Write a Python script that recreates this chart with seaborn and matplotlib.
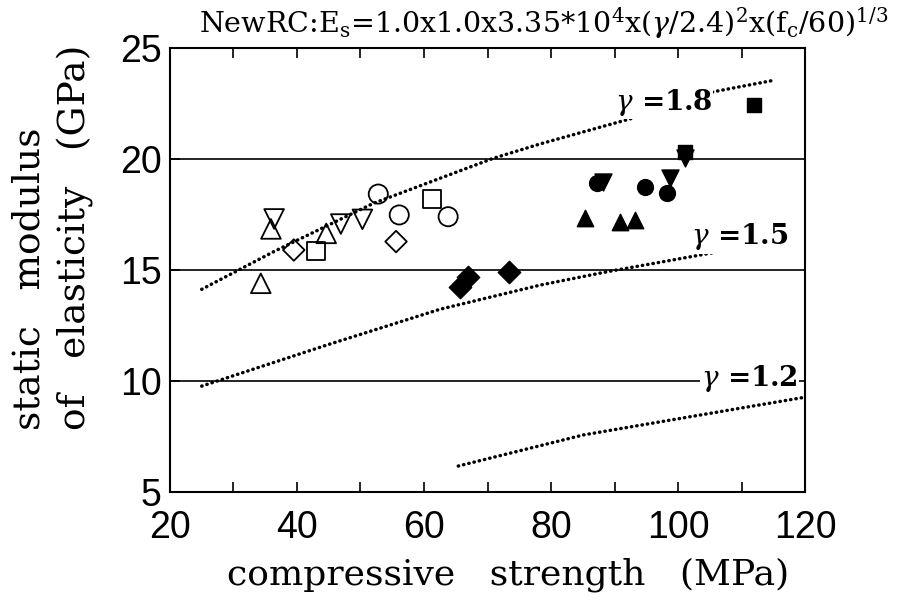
import numpy as np
import pandas as pd
import matplotlib as mpl
import matplotlib.pyplot as plt
import seaborn as sns

sns.set_style('white')
mpl.rcParams['mathtext.fontset'] = 'dejavuserif'
mpl.rcParams['text.color'] = 'black'
mpl.rcParams['xtick.color'] = 'black'
mpl.rcParams['ytick.color'] = 'black'

# measured points (compressive strength MPa, static modulus GPa)
open_circle_x = [52.8, 56.1, 63.8]
open_circle_y = [18.42, 17.48, 17.40]
open_square_x = [43.0, 61.2]
open_square_y = [15.86, 18.18]
open_diamond_x = [39.5, 55.6]
open_diamond_y = [15.90, 16.28]
open_triup_x = [34.3, 35.9, 44.6]
open_triup_y = [14.40, 16.85, 16.65]
open_tridown_x = [36.4, 46.9, 50.3]
open_tridown_y = [17.30, 17.07, 17.28]

filled_circle_x = [87.2, 94.8, 98.2]
filled_circle_y = [18.90, 18.75, 18.45]
filled_square_x = [101.1, 111.9]
filled_square_y = [20.32, 22.43]
filled_diamond_x = [65.7, 66.9, 73.4]
filled_diamond_y = [14.23, 14.68, 14.90]
filled_triup_x = [85.4, 90.9, 93.2]
filled_triup_y = [17.33, 17.18, 17.25]
filled_tridown_x = [88.2, 98.7, 101.1]
filled_tridown_y = [18.98, 19.13, 20.05]

# dotted curves
g18_x = [25.0, 36.5, 52.0, 70.9, 78.3, 95.6, 105.6, 114.8]
g18_y = [14.13, 15.85, 18.00, 20.03, 20.68, 22.06, 23.03, 23.53]
g15_x = [25.0, 44.7, 62.5, 78.3, 88.8, 107.9]
g15_y = [9.77, 11.62, 13.23, 14.32, 14.92, 15.90]
g12_x = [65.4, 85.1, 101.9, 120.2]
g12_y = [6.17, 7.57, 8.39, 9.28]

grid_y = [10, 15, 20]

fig, ax = plt.subplots(figsize=(9.07, 6.03), dpi=100)
fig.subplots_adjust(left=0.1874, right=0.8876, bottom=0.1841, top=0.9204)

for yy in grid_y:
    ax.axhline(yy, color='black', lw=1.2, zorder=1)

dot = dict(color='black', lw=2.5, linestyle=(0, (0.1, 1.45)),
           dash_capstyle='round', zorder=2, sort=False, estimator=None)
for cx, cy in [(g18_x, g18_y), (g15_x, g15_y), (g12_x, g12_y)]:
    sns.lineplot(x=cx, y=cy, ax=ax, **dot)

groups = [
    (open_circle_x, open_circle_y, 'o', 190, False),
    (open_square_x, open_square_y, 's', 170, False),
    (open_diamond_x, open_diamond_y, 'D', 120, False),
    (open_triup_x, open_triup_y, '^', 200, False),
    (open_tridown_x, open_tridown_y, 'v', 200, False),
    (filled_circle_x, filled_circle_y, 'o', 130, True),
    (filled_square_x, filled_square_y, 's', 100, True),
    (filled_diamond_x, filled_diamond_y, 'D', 130, True),
    (filled_triup_x, filled_triup_y, '^', 140, True),
    (filled_tridown_x, filled_tridown_y, 'v', 150, True),
]
for gx, gy, m, s, filled in groups:
    if filled:
        sns.scatterplot(x=gx, y=gy, marker=m, s=s, color='black',
                        edgecolor='black', linewidth=1.0, ax=ax, zorder=4)
    else:
        sns.scatterplot(x=gx, y=gy, marker=m, s=s, facecolor='none',
                        edgecolor='black', linewidth=1.3, ax=ax, zorder=4)

lab = dict(fontsize=20, fontweight='bold', family='DejaVu Serif', zorder=3,
           va='center', ha='left',
           bbox=dict(facecolor='white', edgecolor='none', pad=1))
ax.text(90.0, 22.55, r'$\gamma$ =1.8', **lab)
ax.text(102.0, 16.49, r'$\gamma$ =1.5', **lab)
ax.text(103.6, 10.12, r'$\gamma$ =1.2', **lab)

ax.set_xlim(20, 120)
ax.set_ylim(5, 25)
ax.set_xticks(np.arange(20, 121, 20))
ax.set_xticks(np.arange(30, 120, 10), minor=True)
ax.set_yticks(np.arange(5, 26, 5))
ax.tick_params(axis='both', which='both', direction='in', top=True,
               bottom=True, left=True, right=False, color='black', width=1.2)
ax.tick_params(axis='x', which='both', length=7, pad=13)
ax.tick_params(axis='y', length=7, pad=6)
for t in ax.get_xticklabels() + ax.get_yticklabels():
    t.set_fontfamily('Liberation Sans')
    t.set_fontsize(27)
for sp in ax.spines.values():
    sp.set_color('black')
    sp.set_linewidth(1.5)

ax.set_xlabel('')
ax.set_ylabel('')
fig.text(0.56, 0.047, 'compressive   strength   (MPa)', ha='center', va='center',
         fontsize=26, family='DejaVu Serif')
fig.text(0.058, 1 - 430 / 603, 'static   modulus\nof   elasticity   (GPa)',
         rotation=90, ha='center', va='bottom', multialignment='left',
         fontsize=27, family='DejaVu Serif', linespacing=1.35)
fig.text(0.219, 0.962,
         r'NewRC:E$_\mathrm{s}$=1.0x1.0x3.35*10$^4$x($\gamma$/2.4)$^2$x(f$_\mathrm{c}$/60)$^{1/3}$',
         ha='left', va='center', fontsize=20.5, family='DejaVu Serif')

plt.savefig('out.png', dpi=100)
